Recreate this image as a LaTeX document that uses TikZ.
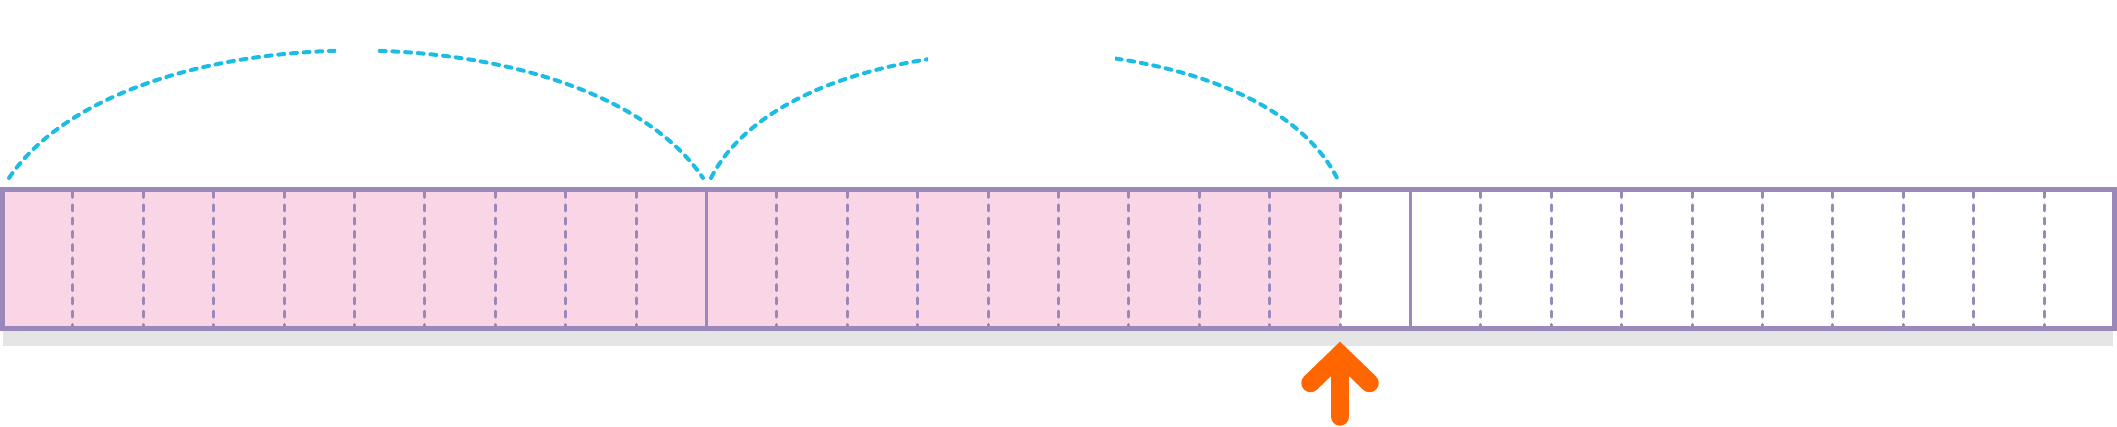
\documentclass[tikz,border=0pt]{standalone}
\definecolor{cellborder}{HTML}{9B88BB}
\definecolor{pinkfill}{HTML}{F9D5E6}
\definecolor{arccyan}{HTML}{1CBDE4}
\definecolor{arroworange}{HTML}{FF6600}
\definecolor{shadowgray}{HTML}{E5E5E5}
\tikzset{
  outerborder/.style={draw=cellborder, line width=5pt},
  cellsolid/.style={draw=cellborder, line width=3.5pt},
  celldashed/.style={draw=cellborder, line width=3pt, line cap=round, dash pattern=on 6pt off 7.3pt},
  arcline/.style={draw=arccyan, line width=4pt, line cap=round, dash pattern=on 6pt off 6.7pt},
  pointer/.style={draw=arroworange, line width=18.5pt, line cap=round, line join=miter},
}
\begin{document}
\begin{tikzpicture}[x=1pt,y=-1pt]
\useasboundingbox (0,0) rectangle (2117,427);
% bar corners
\coordinate (barNW) at (2.5,189.2);
\coordinate (barSE) at (2114.5,328.5);
% shadow
\fill[shadowgray] (3,320) rectangle (2113,346.5);
\fill[white] (barNW) rectangle (barSE);
% filled cells (19 of 30)
\fill[pinkfill] (barNW) rectangle (1340.1,328.5);
% cell dividers
\foreach \k in {1,...,29}{
  \pgfmathsetmacro{\xx}{2.5+70.4*\k}
  \ifnum\k=10
    \draw[cellsolid] (\xx,189.2) -- (\xx,328.5);
  \else\ifnum\k=20
    \draw[cellsolid] (\xx,189.2) -- (\xx,328.5);
  \else
    \draw[celldashed] (\xx,191.5) -- (\xx,326.5);
  \fi\fi
}
\draw[outerborder] (barNW) rectangle (barSE);
% arcs
\coordinate (a1s) at (9,178);
\coordinate (a1e) at (703,178);
\coordinate (a2s) at (711,178);
\coordinate (a2e) at (1337,178);
\begin{scope}
  \clip (0,0) rectangle (336,185) (377,0) rectangle (708,185);
  \draw[arcline] (a1s) .. controls (124,8) and (588,8) .. (a1e);
\end{scope}
\begin{scope}
  \clip (706,0) rectangle (928,185) (1115,0) rectangle (1400,185);
  \draw[arcline] (a2s) .. controls (796,10) and (1252,10) .. (a2e);
\end{scope}
% pointer arrow
\coordinate (pl) at (1310.5,383);
\coordinate (apex) at (1340,354.5);
\coordinate (pr) at (1369.5,383);
\coordinate (ptail) at (1340,416.5);
\draw[pointer] (pl) -- (apex) -- (pr);
\draw[pointer] (apex) -- (ptail);
\end{tikzpicture}
\end{document}
